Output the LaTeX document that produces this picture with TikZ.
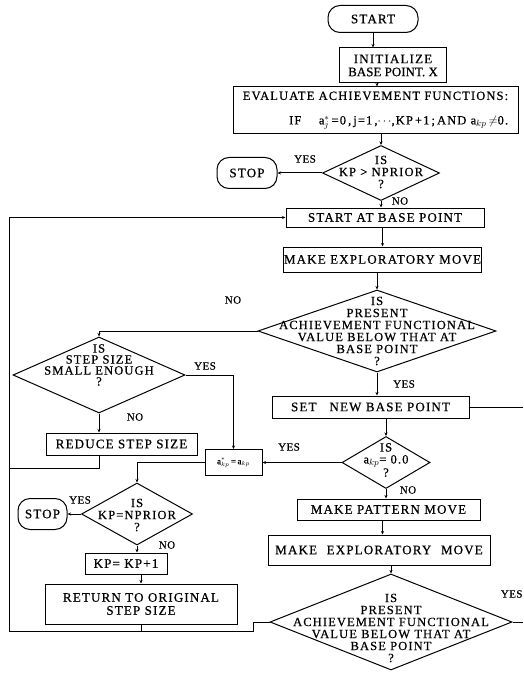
\documentclass[tikz,border=0pt]{standalone}
\usepackage{fontspec}
\setmainfont{Liberation Serif}[LetterSpace=9,FakeBold=0.6]
\newfontfamily\tight{Liberation Serif}[LetterSpace=0,FakeBold=0.6]
\newfontfamily\lblfont{Liberation Serif}[LetterSpace=4,FakeBold=0.6]
\usetikzlibrary{shapes.geometric,arrows.meta}
\tikzset{
  box/.style={draw, rectangle, inner sep=0pt, align=center, font=\fontsize{13}{13}\selectfont},
  pill/.style={box, rounded corners=12pt},
  dia/.style={draw, diamond, inner sep=0pt},
  dtext/.style={inner sep=0pt, align=center, font=\fontsize{12.5}{12}\selectfont},
  lbl/.style={inner sep=0pt, font=\lblfont\fontsize{11}{11}\selectfont}
}
\begin{document}
\begin{tikzpicture}[x=1pt,y=-1pt,line width=1pt,>={Stealth[length=3.5pt,width=3pt]}]
\useasboundingbox (0,0) rectangle (523,676);
% nodes
\node[pill, minimum width=90pt, minimum height=27pt] (start) at (373,19) {START};
\node[box, minimum width=107pt, minimum height=35pt] (init) at (393,65.5) {INITIALIZE\\{\tight BASE POINT. X}};
\node[box, minimum width=285pt, minimum height=47pt, align=right, font=\fontsize{12.5}{12.5}\selectfont] (eval) at (375.5,110.5)
  {EVALUATE ACHIEVEMENT FUNCTIONS:\\[12pt]IF\hspace{1.4em}a$^{*}_{j}$\,=0\,,\,j=1\,,$\cdots$,KP\,+1\,;\,AND a$_{kp}$\,$\neq$0.};
\node[dia, minimum width=117pt, minimum height=55pt] (kp1) at (381,173) {};
\node[dtext] (kp1t) at (381,172) {IS\\KP > NPRIOR\\?};
\node[pill, minimum width=60pt, minimum height=31pt] (stop1) at (247,173) {STOP};
\node[box, minimum width=198pt, minimum height=19pt] (sabp) at (385,217.5) {START AT BASE POINT};
\node[box, minimum width=197pt, minimum height=25pt] (mem1) at (382.5,259.5) {MAKE EXPLORATORY MOVE};
\node[dia, minimum width=238pt, minimum height=82pt] (d1) at (377,331) {};
\node[dtext] (d1t) at (377,331) {IS\\PRESENT\\ACHIEVEMENT FUNCTIONAL\\VALUE BELOW THAT AT\\BASE POINT\\?};
\node[dia, minimum width=172pt, minimum height=76pt] (step) at (99,375) {};
\node[dtext, font=\fontsize{12.5}{11}\selectfont] (stept) at (99,365) {IS\\STEP SIZE\\SMALL ENOUGH\\?};
\node[box, minimum width=151pt, minimum height=22pt] (reduce) at (121.5,444) {REDUCE STEP SIZE};
\node[box, minimum width=57pt, minimum height=26pt, font=\fontsize{9}{9}\selectfont] (astar) at (233.5,462.5) {a$^{*}_{kp}$\,=\,a$_{kp}$};
\node[box, minimum width=197pt, minimum height=22pt] (setbp) at (370.5,407) {SET\hspace{1em}NEW BASE POINT};
\node[dia, minimum width=88pt, minimum height=52pt] (akp) at (386,462.5) {};
\node[dtext] (akpt) at (386,460) {IS\\a$_{kp}$= 0.0\\?};
\node[box, minimum width=183pt, minimum height=21pt] (pattern) at (388.5,509.5) {MAKE PATTERN MOVE};
\node[box, minimum width=222pt, minimum height=30pt] (mem2) at (379,550) {MAKE\hspace{0.4em} EXPLORATORY\hspace{0.4em} MOVE};
\node[dia, minimum width=242pt, minimum height=96pt] (d2) at (391,622) {};
\node[dtext] (d2t) at (391,628) {IS\\PRESENT\\ACHIEVEMENT FUNCTIONAL\\VALUE BELOW THAT AT\\BASE POINT\\?};
\node[dia, minimum width=111pt, minimum height=62pt] (kp2) at (137,514) {};
\node[dtext] (kp2t) at (137,515) {IS\\KP=NPRIOR\\?};
\node[pill, minimum width=49pt, minimum height=31pt] (stop2) at (42.5,514) {STOP};
\node[box, minimum width=82pt, minimum height=21pt] (kpinc) at (126,563.5) {KP= KP+1};
\node[box, minimum width=192pt, minimum height=40pt, font=\fontsize{13}{13}\selectfont] (ret) at (141,604) {RETURN TO ORIGINAL\\STEP SIZE};
% labels
\node[lbl] (l1) at (305,159) {YES};
\node[lbl] (l2) at (400,201) {NO};
\node[lbl] (l3) at (233,300) {NO};
\node[lbl] (l4) at (205,366) {YES};
\node[lbl] (l5) at (404,384) {YES};
\node[lbl] (l6) at (135,417) {NO};
\node[lbl] (l7) at (289,447) {YES};
\node[lbl] (l8) at (408,490) {NO};
\node[lbl] (l9) at (80,500) {YES};
\node[lbl] (l10) at (167,545) {NO};
\node[lbl, anchor=east] (l11) at (523,594) {YES};
% coordinates
\coordinate (lr) at (9,468);
\coordinate (lb) at (9,631);
\coordinate (j1) at (253,622);
\coordinate (e1) at (523,407);
\coordinate (e2) at (523,622);
% connectors
\draw[->] (start.south) -- (start.south |- init.north);
\draw[->] ([xshift=-16pt]init.south) -- ([xshift=-16pt]init.south |- eval.north);
\draw[->] (eval.south -| kp1.north) -- (kp1.north);
\draw[->] (kp1.west) -- (stop1.east);
\draw[->] (kp1.south) -- (kp1.south |- sabp.north);
\draw[->] (mem1.north |- sabp.south) -- (mem1.north);
\draw[->] (mem1.south -| d1.north) -- (d1.north);
\draw[->] (d1.west) -| (step.north);
\draw[->] (step.east) -| (astar.north);
\draw[->] (step.south) -- (step.south |- reduce.north);
\draw (reduce.south -| step.south) |- (lr);
\draw[->] (d1.south) -- (d1.south |- setbp.north);
\draw (setbp.east) -- (e1);
\draw[->] (setbp.south -| akp.north) -- (akp.north);
\draw[->] (akp.west) -- (astar.east);
\draw[->] (astar.west) -| (kp2.north);
\draw[->] (kp2.west) -- (stop2.east);
\draw[->] (kp2.south) -- (kp2.south |- kpinc.north);
\draw[->] (ret.north |- kpinc.south) -- (ret.north);
\draw (ret.south) -- (ret.south |- lb);
\draw[->] (akp.south) -- (akp.south |- pattern.north);
\draw[->] ([xshift=-6pt]pattern.south) -- ([xshift=-6pt]pattern.south |- mem2.north);
\draw[->] (mem2.south -| d2.north) -- (d2.north);
\draw (d2.east) -- (e2);
\draw[->] (d2.west) -- (j1) -- (j1 |- lb) -- (lb) -- (lb |- sabp.west) -- (sabp.west);
\end{tikzpicture}
\end{document}
